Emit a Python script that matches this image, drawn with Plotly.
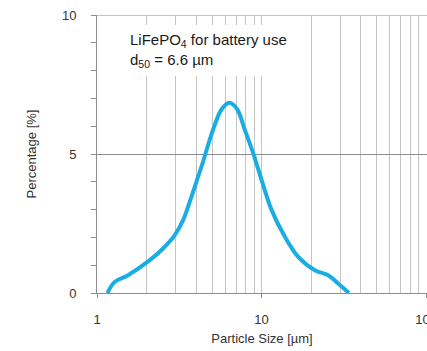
import plotly.graph_objects as go

# Particle size distribution (µm) and percentage
size_um = [1.157, 1.281, 1.544, 2.093, 2.52, 2.97, 3.336, 3.664, 4.024, 4.414, 4.734, 5.20,
           5.71, 6.354, 7.08, 7.91, 8.89, 10.0, 11.5, 13.86, 16.7, 21.1, 25.4, 29.2, 33.96]
percentage = [0.0, 0.40, 0.64, 1.18, 1.60, 2.08, 2.62, 3.29, 4.01, 4.73, 5.33, 6.05,
              6.60, 6.84, 6.63, 5.87, 5.03, 4.07, 2.99, 2.02, 1.30, 0.82, 0.64, 0.34, 0.0]

x_tickvals = [1, 10, 100]
x_ticktext = ["1", "10", "100"]
y_tickvals = [0, 5, 10]

W, H = 427, 351
L, R, T, B = 97.3, 0, 15.3, 58.3
pw = W - L - R
ph = H - T - B

font = "Liberation Sans, Arial, sans-serif"
txt = "#333333"

fig = go.Figure()
fig.add_trace(go.Scatter(
    x=size_um, y=percentage, mode="lines",
    line=dict(color="#1AADE4", width=4, shape="spline", smoothing=1.0),
    showlegend=False, hoverinfo="skip",
))

fig.update_layout(
    width=W, height=H,
    margin=dict(l=L, r=R, t=T, b=B, pad=0, autoexpand=False),
    paper_bgcolor="white", plot_bgcolor="white",
    font=dict(family=font, size=13, color=txt),
    xaxis=dict(
        type="log", range=[0, (W - L) / 164.4], automargin=False,
        tickvals=x_tickvals, ticktext=x_ticktext,
        ticks="outside", ticklen=4, tickcolor="#8c8c8c", tickwidth=1,
        showgrid=True, gridcolor="#c4c4c4", gridwidth=1,
        minor=dict(dtick="D1", showgrid=True, gridcolor="#c4c4c4", ticks=""),
        showline=True, linecolor="#8c8c8c", linewidth=1,
        zeroline=False, ticklabelstandoff=10, ticklabeloverflow="allow",
        tickfont=dict(size=13, color=txt),
        title=dict(text="Particle Size [µm]", standoff=8, font=dict(size=13, color=txt)),
    ),
    yaxis=dict(
        range=[0, 10], tickvals=y_tickvals, automargin=False,
        ticks="outside", ticklen=5, tickcolor="#8c8c8c", tickwidth=1,
        showgrid=True, gridcolor="#8c8c8c", gridwidth=1,
        minor=dict(dtick=1, ticks="outside", ticklen=5, tickcolor="#8c8c8c", showgrid=False),
        showline=True, linecolor="#8c8c8c", linewidth=1,
        zeroline=False, ticklabelstandoff=12,
        tickfont=dict(size=13, color=txt),
        title=dict(text="Percentage [%]", standoff=22, font=dict(size=13, color=txt)),
    ),
)

# top border line at y = 10
fig.add_shape(type="line", xref="paper", yref="y", x0=0, x1=1, y0=10, y1=10,
              line=dict(color="#8c8c8c", width=1), layer="below")

fig.add_annotation(
    xref="paper", yref="paper",
    x=(124.0 - L) / pw, y=(H - B - 25) / ph,
    xanchor="left", yanchor="top", align="left",
    text="LiFePO<sub>4</sub> for battery use<br>d<sub>50</sub> = 6.6 µm",
    showarrow=False, bgcolor="white", borderpad=6, borderwidth=0,
    font=dict(family=font, size=15, color="#1a1a1a"),
)

fig.write_html("out.html", config={"displayModeBar": False},
               post_script="document.body.style.margin='0';document.body.style.overflow='hidden';")
